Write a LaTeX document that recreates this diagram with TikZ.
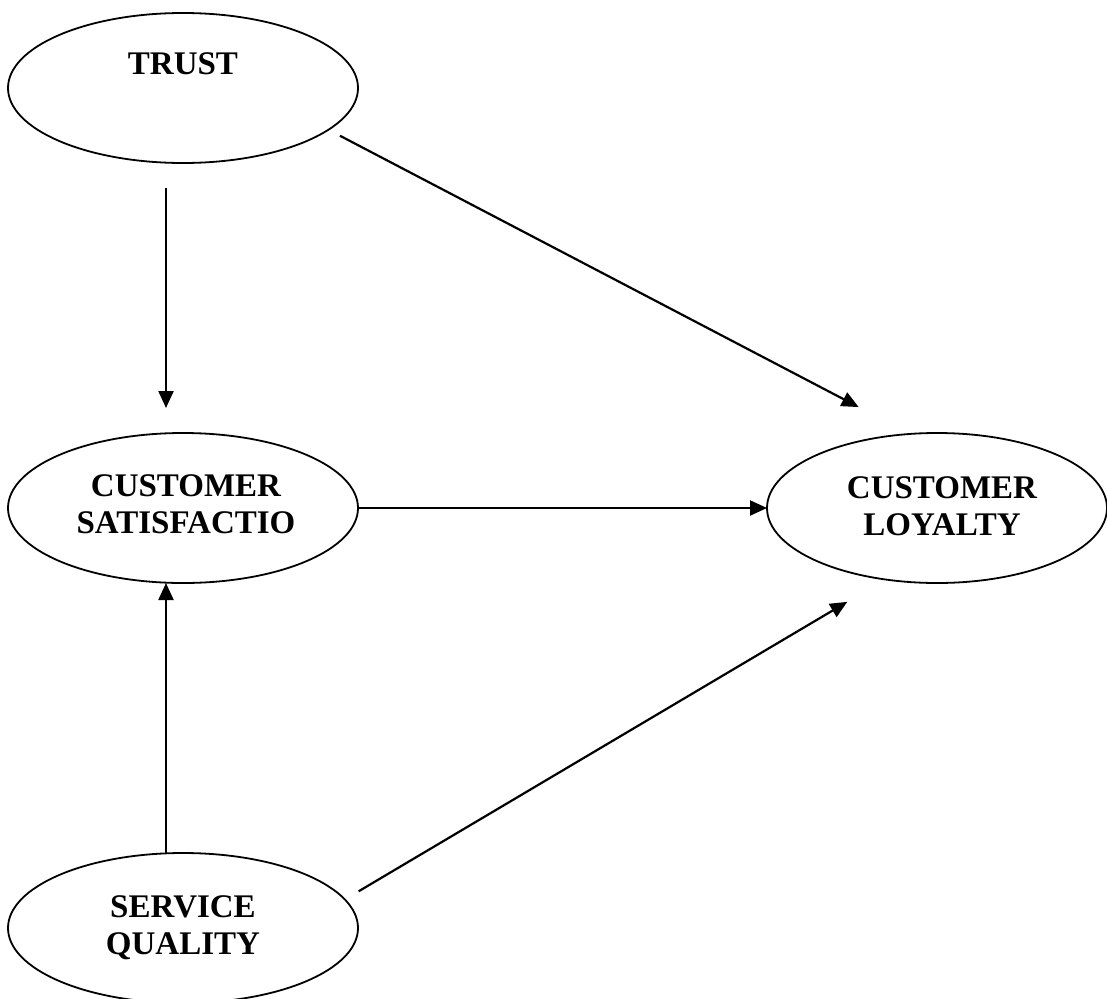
\documentclass[tikz,border=0pt]{standalone}
\usepackage{fontspec}
\setmainfont{Liberation Serif}
\usetikzlibrary{shapes.geometric,arrows.meta}
\tikzset{
  oval/.style={draw, ellipse, line width=1.8pt, minimum width=350pt, minimum height=150pt, inner sep=0pt, outer sep=0pt},
  lbl/.style={align=center, font=\fontsize{33}{37}\selectfont\bfseries, inner sep=0pt, text depth=0pt},
  arr/.style={line width=2.2pt, -{Triangle[length=17pt,width=15pt]}}
}
\begin{document}
\begin{tikzpicture}[x=1pt,y=-1pt]
\useasboundingbox (0,0) rectangle (1107,998);
\node[oval] (trust) at (183,88) {};
\node[oval] (sat) at (183,508) {};
\node[oval, minimum width=340pt] (loy) at (937,508) {};
\node[oval] (sq) at (183,928) {};
\node[lbl] (trustT) at (183,64) {TRUST};
\node[lbl] (satT) at (186,504) {CUSTOMER\\SATISFACTIO};
\node[lbl] (loyT) at (942,506) {CUSTOMER\\LOYALTY};
\node[lbl] (sqT) at (183,925) {SERVICE\\QUALITY};
\draw[arr, shorten <=25pt, shorten >=25pt] ([xshift=-17pt]trust.south) -- ([xshift=-17pt]sat.north);
\draw[arr, shorten <=13pt, shorten >=58pt] (trust.-16.7) -- (loy.110);
\draw[arr] (sat) -- (loy);
\draw[arr] ([xshift=-17pt]sq.north) -- ([xshift=-17pt]sat.south);
\draw[arr, shorten <=16pt, shorten >=44pt] (sq.10.4) -- (loy.234);
\end{tikzpicture}
\end{document}
